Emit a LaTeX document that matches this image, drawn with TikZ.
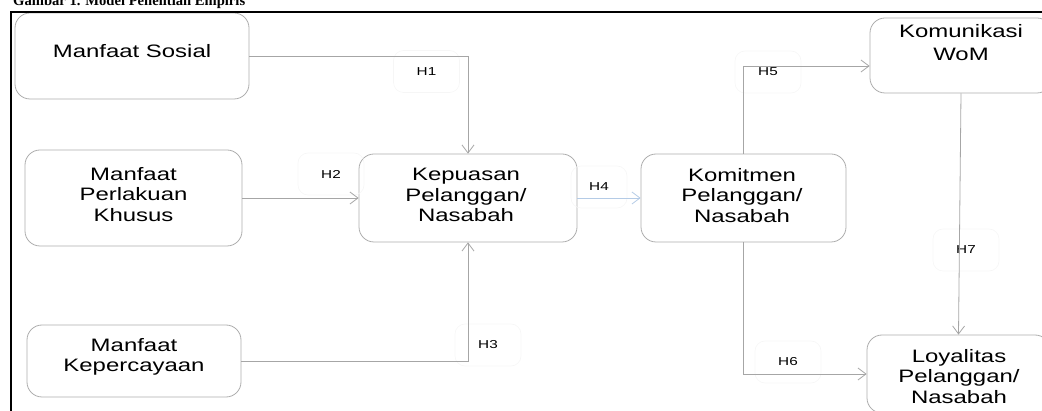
\documentclass[tikz,border=0pt]{standalone}
\usepackage{fontspec}
\usepackage{graphicx}
\usetikzlibrary{arrows.meta}
\newfontfamily\boxfont[FakeStretch=1.33]{Liberation Sans}
\newfontfamily\titlefont{Liberation Serif}
\definecolor{linegray}{HTML}{A6A6A6}
\definecolor{boxgray}{HTML}{ADADAD}
\definecolor{lightblue}{HTML}{B4CBE6}
\definecolor{faint}{HTML}{F6F6F6}
\tikzset{
  box/.style={draw=boxgray, line width=0.8pt, rounded corners=15pt, inner sep=0pt},
  boxtext/.style={inner sep=0pt, anchor=north, align=center, font=\boxfont\fontsize{18}{20.5}\selectfont},
  hlabel/.style={draw=faint, line width=0.6pt, rounded corners=10pt, minimum width=66pt, minimum height=42pt, inner sep=0pt, font=\boxfont\fontsize{11.5}{13}\selectfont},
  conn/.style={draw=linegray, line width=0.8pt, -{Straight Barb[length=8pt,width=12pt]}},
}
\begin{document}
\begin{tikzpicture}[x=1pt,y=-1pt]
\useasboundingbox (0,0) rectangle (1042,411);
% title (cut off at top, as in the reference)
\node[inner sep=0pt, anchor=base west] (title) at (13,5.5) {\resizebox{232pt}{!}{\titlefont\bfseries Gambar 1. Model Penelitian Empiris}};
% boxes
\node[box, minimum width=234pt, minimum height=86pt] (ms) at (132,56) {};
\node[box, minimum width=217pt, minimum height=96pt] (mpk) at (133.5,198) {};
\node[box, minimum width=214pt, minimum height=72pt] (mk) at (134,361) {};
\node[box, minimum width=218pt, minimum height=88pt] (kp) at (468,198) {};
\node[box, minimum width=205pt, minimum height=88pt] (km) at (743.5,198) {};
\node[box, minimum width=182pt, minimum height=75pt] (kw) at (961,55.5) {};
\node[box, minimum width=183pt, minimum height=78pt] (ly) at (958.5,374) {};
% box texts
\node[boxtext] (msT) at (132,44) {Manfaat Sosial};
\node[boxtext] (mpkT) at (133.5,167) {Manfaat\\Perlakuan\\Khusus};
\node[boxtext] (mkT) at (134,338) {Manfaat\\Kepercayaan};
\node[boxtext] (kpT) at (466,168) {Kepuasan\\Pelanggan/\\Nasabah};
\node[boxtext] (kmT) at (742,168) {Komitmen\\Pelanggan/\\Nasabah};
\node[boxtext, font=\boxfont\fontsize{18}{23}\selectfont] (kwT) at (961,24) {Komunikasi\\WoM};
\node[boxtext] (lyT) at (959,349) {Loyalitas\\Pelanggan/\\Nasabah};
% labels
\node[hlabel] (h1) at (426.5,71.5) {H1};
\node[hlabel] (h2) at (331,174) {H2};
\node[hlabel] (h3) at (488,345) {H3};
\node[hlabel, minimum width=56pt] (h4) at (599,187) {H4};
\node[hlabel] (h5) at (768,72) {H5};
\node[hlabel] (h6) at (788,362) {H6};
\node[hlabel] (h7) at (966,250) {H7};
% connectors
\draw[conn] (ms.east) -| (kp.north);
\draw[conn] (mpk.east) -- (kp.west);
\draw[conn] (mk.east) -| (kp.south);
\draw[conn, draw=lightblue] (kp.east) -- (km.west);
\draw[conn] (km.north) |- ([yshift=-10.5pt]kw.west);
\draw[conn] (km.south) |- (ly.west);
\draw[conn] (kw.south) -- (ly.north);
% frame
\coordinate (fr1) at (1050,12);
\coordinate (fr2) at (11,12);
\coordinate (fr3) at (11,420);
\draw[black, line width=2.5pt] (fr1) -- (fr2) -- (fr3);
\end{tikzpicture}
\end{document}
